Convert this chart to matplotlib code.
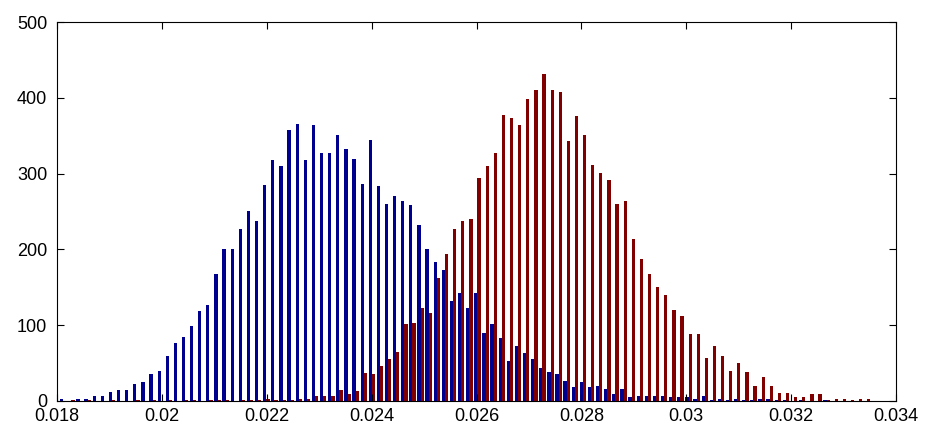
import numpy as np
import matplotlib
matplotlib.use("Agg")
import matplotlib.pyplot as plt

# histogram bins: 100 bins, first / last bin centre
bin_first = 0.018120
bin_last = 0.033450
n_bins = 100

series_a = [3, 0, 2, 3, 7, 7, 12, 14, 14, 22,
            25, 35, 40, 59, 77, 85, 99, 119, 127, 168,
            201, 201, 227, 251, 238, 285, 318, 310, 357, 366,
            318, 364, 327, 327, 351, 333, 319, 286, 344, 283,
            260, 271, 264, 258, 232, 201, 184, 173, 132, 143,
            123, 143, 90, 101, 83, 53, 72, 63, 55, 44,
            38, 35, 27, 18, 25, 18, 20, 16, 9, 16,
            5, 7, 7, 7, 7, 5, 5, 5, 2, 7,
            1, 2, 1, 2, 1, 1, 2, 2, 1, 1,
            0, 1, 0, 0, 1, 0, 0, 0, 0, 0]

series_b = [0, 1, 0, 1, 0, 0, 1, 0, 0, 1,
            0, 1, 0, 1, 0, 1, 1, 0, 1, 1,
            1, 0, 1, 1, 1, 3, 1, 1, 1, 2,
            2, 7, 7, 7, 15, 9, 13, 37, 36, 46,
            55, 64, 101, 103, 123, 116, 162, 194, 227, 238,
            240, 294, 310, 327, 377, 373, 364, 399, 410, 432,
            410, 408, 343, 376, 351, 312, 301, 292, 260, 264,
            214, 187, 168, 151, 140, 120, 112, 88, 88, 57,
            72, 59, 40, 50, 38, 20, 31, 20, 11, 10,
            5, 5, 9, 9, 1, 3, 3, 1, 3, 3]

x_ticks = [0.018, 0.02, 0.022, 0.024, 0.026, 0.028, 0.03, 0.032, 0.034]
x_tick_labels = ["0.018", "0.02", "0.022", "0.024", "0.026", "0.028",
                 "0.03", "0.032", "0.034"]
y_ticks = [0, 100, 200, 300, 400, 500]


def main():
    '''Grouped histogram of two samples, matlab look'''
    plt.rcParams["font.family"] = ["Liberation Sans", "DejaVu Sans"]
    centers = np.linspace(bin_first, bin_last, n_bins)
    step = centers[1] - centers[0]
    w = step * 0.4

    fig = plt.figure(figsize=(9.26, 4.29), dpi=100)
    ax = fig.add_axes([0.0616, 0.0653, 0.906, 0.8834])

    ax.bar(centers - w / 2, series_a, width=w, color="#00008f",
           linewidth=0)
    ax.bar(centers + w / 2, series_b, width=w, color="#800000",
           linewidth=0)

    ax.set_xlim(0.018, 0.034)
    ax.set_ylim(0, 500)
    ax.set_xticks(x_ticks)
    ax.set_xticklabels(x_tick_labels)
    ax.set_yticks(y_ticks)
    ax.tick_params(direction="in", top=True, right=True, length=5,
                   labelsize=13, width=0.8)
    ax.tick_params(axis="x", pad=5)
    ax.tick_params(axis="y", pad=7)
    for s in ax.spines.values():
        s.set_linewidth(0.8)

    fig.savefig("out.png", dpi=100)


if __name__ == "__main__":
    main()
